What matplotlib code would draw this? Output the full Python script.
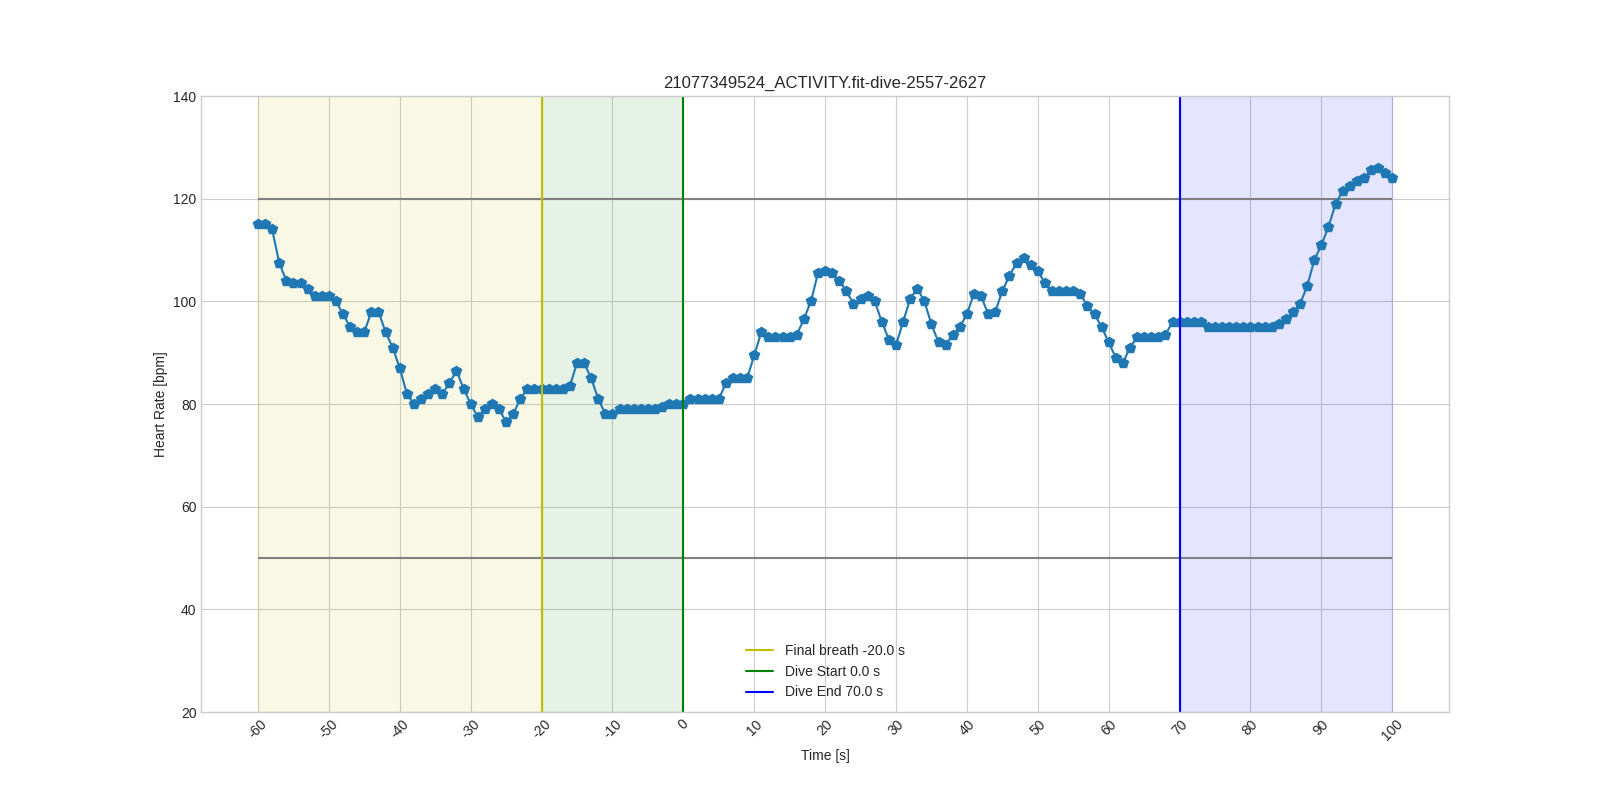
import numpy as np
import matplotlib
matplotlib.use("Agg")
import matplotlib.pyplot as plt

title = "21077349524_ACTIVITY.fit-dive-2557-2627"

time_s = list(range(-60, 101))
heart_rate = [
    115, 115, 114, 107.5, 104, 103.5, 103.5, 102.5, 101, 101,      # -60 .. -51
    101, 100, 97.5, 95, 94, 94, 98, 98, 94, 91,                     # -50 .. -41
    87, 82, 80, 81, 82, 83, 82, 84, 86.5, 83,                       # -40 .. -31
    80, 77.5, 79, 80, 79, 76.5, 78, 81, 83, 83,                     # -30 .. -21
    83, 83, 83, 83, 83.5, 88, 88, 85, 81, 78,                       # -20 .. -11
    78, 79, 79, 79, 79, 79, 79, 79.5, 80, 80,                       # -10 .. -1
    80, 81, 81, 81, 81, 81, 84, 85, 85, 85,                         # 0 .. 9
    89.5, 94, 93, 93, 93, 93, 93.5, 96.5, 100, 105.5,               # 10 .. 19
    106, 105.5, 104, 102, 99.5, 100.5, 101, 100, 96, 92.5,          # 20 .. 29
    91.5, 96, 100.5, 102.5, 100, 95.5, 92, 91.5, 93.5, 95,          # 30 .. 39
    97.5, 101.5, 101, 97.5, 98, 102, 105, 107.5, 108.5, 107,        # 40 .. 49
    106, 103.5, 102, 102, 102, 102, 101.5, 99, 97.5, 95,            # 50 .. 59
    92, 89, 88, 91, 93, 93, 93, 93, 93.5, 96,                       # 60 .. 69
    96, 96, 96, 96, 95, 95, 95, 95, 95, 95,                         # 70 .. 79
    95, 95, 95, 95, 95.5, 96.5, 98, 99.5, 103, 108,                 # 80 .. 89
    111, 114.5, 119, 121.5, 122.5, 123.5, 124, 125.5, 126, 125,     # 90 .. 99
    124,                                                            # 100
]

hr_limits = [50, 120]
final_breath = -20.0
dive_start = 0.0
dive_end = 70.0


def main() -> None:
    plt.style.use("seaborn-v0_8-whitegrid")
    plt.rcParams["axes.unicode_minus"] = False
    fig, ax = plt.subplots(figsize=(16.1, 8), dpi=100)

    t0, t1 = time_s[0], time_s[-1]
    ax.axvspan(t0, final_breath, color="y", alpha=0.1)
    ax.axvspan(final_breath, dive_start, color="g", alpha=0.1)
    ax.axvspan(dive_end, t1, color="b", alpha=0.1)

    ax.hlines(hr_limits, t0, t1, color="grey")

    ax.plot(time_s, heart_rate, marker="p", markersize=7, color="tab:blue")

    ax.axvline(final_breath, color="y", label=f"Final breath {final_breath} s")
    ax.axvline(dive_start, color="g", label=f"Dive Start {dive_start} s")
    ax.axvline(dive_end, color="b", label=f"Dive End {dive_end} s")

    ax.set_ylim(20, 140)
    ax.set_xticks(np.arange(-60, 101, 10))
    plt.setp(ax.get_xticklabels(), rotation=45)
    ax.set_xlabel("Time [s]")
    ax.set_ylabel("Heart Rate [bpm]")
    ax.set_title(title)
    ax.legend(loc="lower center")

    fig.savefig("out.png")


if __name__ == "__main__":
    main()
